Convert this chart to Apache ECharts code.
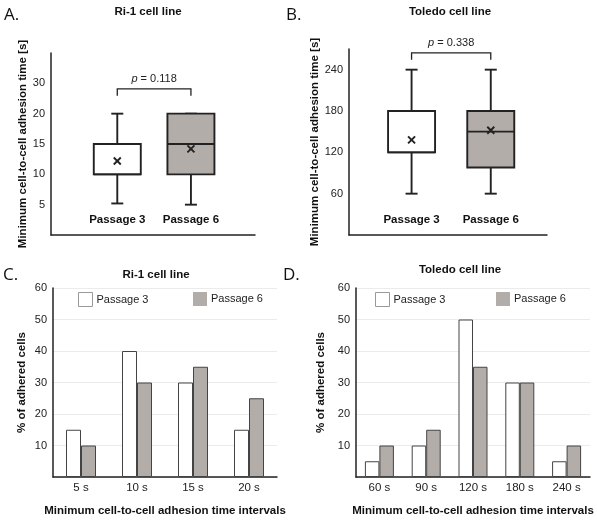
<!DOCTYPE html>
<html>
<head>
<meta charset="utf-8">
<script src="https://cdn.jsdelivr.net/npm/echarts@6/dist/echarts.min.js"></script>
<style>html,body{margin:0;padding:0;background:#fff}#main{width:597px;height:521px}</style>
</head>
<body>
<div id="main"></div>
<script>
// box plots: [min, q1, median, q3, max]
const boxCats = ['Passage 3', 'Passage 6'];
const ri1Box = [[5.2, 10, 10, 15, 20], [5, 10, 15, 20, 20]];
const ri1Mean = [12.2, 14.2];
// tick position -> printed label (the original figure prints "30" at the 25 mark)
const ri1Ticks = {5: '5', 10: '10', 15: '15', 20: '20', 25: '30'};
const toledoBox = [[60, 120, 120, 180, 240], [60, 98, 150, 180, 240]];
const toledoMean = [138, 152];
const toledoTicks = {60: '60', 120: '120', 180: '180', 240: '240'};
const ri1P = '0.118', toledoP = '0.338';
const ri1Bracket = 24.1, toledoBracket = 264.5;

// bar charts: % of adhered cells
const ri1Cats = ['5 s', '10 s', '15 s', '20 s'];
const ri1P3 = [15, 40, 30, 15];
const ri1P6 = [10, 30, 35, 25];
const toledoCats = ['60 s', '90 s', '120 s', '180 s', '240 s'];
const toledoP3 = [5, 10, 50, 30, 5];
const toledoP6 = [10, 15, 35, 30, 10];
const pctTicks = {10: '10', 20: '20', 30: '30', 40: '40', 50: '50', 60: '60'};

const FONT = '"Liberation Sans", Arial, sans-serif';
const INK = '#222';
const GREY = '#b3adaa';
const fills = ['#ffffff', GREY];

let myChart = echarts.init(document.getElementById('main'));

function boxRender(params, api) {
  const i = api.value(0);
  const lo = api.coord([i, api.value(1)]), q1 = api.coord([i, api.value(2)]),
        md = api.coord([i, api.value(3)]), q3 = api.coord([i, api.value(4)]),
        hi = api.coord([i, api.value(5)]), mn = api.coord([i, api.value(6)]);
  const x = lo[0], hw = 23.5, cw = 6, s = 3.5;
  const ln = {stroke: INK, lineWidth: 1.9};
  const cs = params.coordSys;
  return {
    type: 'group',
    children: [
      {type: 'line', shape: {x1: x, y1: lo[1], x2: x, y2: q1[1]}, style: ln},
      {type: 'line', shape: {x1: x, y1: q3[1], x2: x, y2: hi[1]}, style: ln},
      {type: 'line', shape: {x1: x - cw, y1: lo[1], x2: x + cw, y2: lo[1]}, style: ln},
      {type: 'line', shape: {x1: x - cw, y1: hi[1], x2: x + cw, y2: hi[1]}, style: ln},
      {type: 'rect', shape: {x: x - hw, y: q3[1], width: 2 * hw, height: q1[1] - q3[1]},
        style: {fill: fills[params.dataIndex], stroke: INK, lineWidth: 1.9}},
      {type: 'line', shape: {x1: x - hw, y1: md[1], x2: x + hw, y2: md[1]}, style: ln},
      {type: 'line', shape: {x1: x - s, y1: mn[1] - s, x2: x + s, y2: mn[1] + s}, style: ln},
      {type: 'line', shape: {x1: x - s, y1: mn[1] + s, x2: x + s, y2: mn[1] - s}, style: ln},
      {type: 'text', x: x, y: cs.y + cs.height - 15,
        style: {text: boxCats[params.dataIndex], font: 'bold 11.5px ' + FONT,
          textAlign: 'center', textVerticalAlign: 'middle', fill: '#111'}}
    ]
  };
}

function bracketRender(label) {
  return function (params, api) {
    const a = api.coord([api.value(0), api.value(2)]);
    const b = api.coord([api.value(1), api.value(2)]);
    return {
      type: 'group',
      children: [
        {type: 'polyline', shape: {points: [[a[0], a[1] + 7], [a[0], a[1]], [b[0], b[1]], [b[0], b[1] + 7]]},
          style: {stroke: INK, lineWidth: 1.3, fill: 'none'}},
        {type: 'text', x: (a[0] + b[0]) / 2, y: a[1] - 10,
          style: {text: '{i|p} = ' + label, fontSize: 11, fontFamily: FONT, fill: INK,
            textAlign: 'center', textVerticalAlign: 'middle',
            rich: {i: {fontStyle: 'italic', fontSize: 11, fontFamily: FONT, fill: INK}}}}
      ]
    };
  };
}

function valueY(gi, min, max, interval, ticks, name, gap, split) {
  return {
    gridIndex: gi, type: 'value', min: min, max: max, interval: interval,
    axisLine: {show: true, onZero: false, lineStyle: {color: INK, width: 1.5}},
    axisTick: {show: false},
    axisLabel: {margin: 6, fontSize: 11, color: INK, fontFamily: FONT,
      formatter: v => ticks[v] || ''},
    splitLine: {show: split, lineStyle: {color: '#ebebeb', width: 1}},
    name: name, nameLocation: 'middle', nameGap: gap,
    nameTextStyle: {fontWeight: 'bold', fontSize: 11.5, color: '#111', fontFamily: FONT}
  };
}

function plainX(gi, min, max) {
  return {
    gridIndex: gi, type: 'value', min: min, max: max,
    axisLine: {show: true, onZero: false, lineStyle: {color: INK, width: 1.5}},
    axisTick: {show: false}, axisLabel: {show: false}, splitLine: {show: false}
  };
}

function catX(gi, cats) {
  return {
    gridIndex: gi, type: 'category', data: cats,
    axisLine: {show: true, lineStyle: {color: INK, width: 1.5}},
    axisTick: {show: false},
    axisLabel: {margin: 5, fontSize: 11.5, color: INK, fontFamily: FONT},
    name: 'Minimum cell-to-cell adhesion time intervals', nameLocation: 'middle', nameGap: 28,
    nameTextStyle: {fontWeight: 'bold', fontSize: 11.5, color: '#111', fontFamily: FONT}
  };
}

function legendItem(name, left, border) {
  return {
    data: [name], left: left, top: 287, icon: 'rect', itemWidth: 14, itemHeight: 14,
    selectedMode: false,
    itemStyle: {borderColor: '#999', borderWidth: border},
    textStyle: {fontSize: 11, color: INK, fontFamily: FONT, padding: [0, 0, 0, -1]}
  };
}

function barSeries(name, gi, data, color, width) {
  return {
    name: name, type: 'bar', xAxisIndex: gi, yAxisIndex: gi, data: data,
    barWidth: width, barGap: '0%',
    itemStyle: {color: color, borderColor: '#444', borderWidth: 1}
  };
}

function titleText(text, x, y) {
  return {type: 'text', x: x, y: y,
    style: {text: text, font: 'bold 11.5px ' + FONT, fill: '#111', textAlign: 'center', textVerticalAlign: 'middle'}};
}
function letter(text, x, y) {
  return {type: 'text', x: x, y: y,
    style: {text: text, font: '17px "Open Sans", sans-serif', fill: '#111', textAlign: 'left', textVerticalAlign: 'middle'}};
}

let option = {
  animation: false,
  backgroundColor: '#fff',
  textStyle: {fontFamily: FONT},
  grid: [
    {left: 51, top: 53, width: 204, height: 182},
    {left: 349, top: 49, width: 198, height: 186},
    {left: 53, top: 288, width: 224, height: 189},
    {left: 356, top: 288, width: 234, height: 189}
  ],
  xAxis: [
    plainX(0, -0.9, 1.87),
    plainX(1, -0.79, 1.71),
    catX(2, ri1Cats),
    catX(3, toledoCats)
  ],
  yAxis: [
    valueY(0, 0, 30, 5, ri1Ticks, 'Minimum cell-to-cell adhesion time [s]', 17, false),
    valueY(1, 0, 270, 30, toledoTicks, 'Minimum cell-to-cell adhesion time [s]', 20, false),
    valueY(2, 0, 60, 10, pctTicks, '% of adhered cells', 25, true),
    valueY(3, 0, 60, 10, pctTicks, '% of adhered cells', 29, true)
  ],
  legend: [
    legendItem('Passage 3', 73, 1),
    legendItem('Passage 6', 188, 0),
    legendItem('Passage 3', 370, 1),
    legendItem('Passage 6', 491, 0)
  ],
  graphic: [
    letter('A.', 4, 15), letter('B.', 286, 15), letter('C.', 3, 275), letter('D.', 283, 275),
    titleText('Ri-1 cell line', 148, 12),
    titleText('Toledo cell line', 450, 12),
    titleText('Ri-1 cell line', 156, 275),
    titleText('Toledo cell line', 460, 270)
  ],
  series: [
    {type: 'custom', name: 'boxRi1', xAxisIndex: 0, yAxisIndex: 0, renderItem: boxRender,
      encode: {x: 0, y: [1, 2, 3, 4, 5]},
      data: ri1Box.map((b, i) => [i, ...b, ri1Mean[i]])},
    {type: 'custom', name: 'boxToledo', xAxisIndex: 1, yAxisIndex: 1, renderItem: boxRender,
      encode: {x: 0, y: [1, 2, 3, 4, 5]},
      data: toledoBox.map((b, i) => [i, ...b, toledoMean[i]])},
    {type: 'custom', name: 'pRi1', xAxisIndex: 0, yAxisIndex: 0, renderItem: bracketRender(ri1P),
      encode: {x: [0, 1], y: 2}, data: [[0, 1, ri1Bracket]]},
    {type: 'custom', name: 'pToledo', xAxisIndex: 1, yAxisIndex: 1, renderItem: bracketRender(toledoP),
      encode: {x: [0, 1], y: 2}, data: [[0, 1, toledoBracket]]},
    barSeries('Passage 3', 2, ri1P3, '#ffffff', 15),
    barSeries('Passage 6', 2, ri1P6, GREY, 15),
    barSeries('Passage 3', 3, toledoP3, '#ffffff', 14.5),
    barSeries('Passage 6', 3, toledoP6, GREY, 14.5)
  ]
};
myChart.setOption(option);
</script>
</body>
</html>
